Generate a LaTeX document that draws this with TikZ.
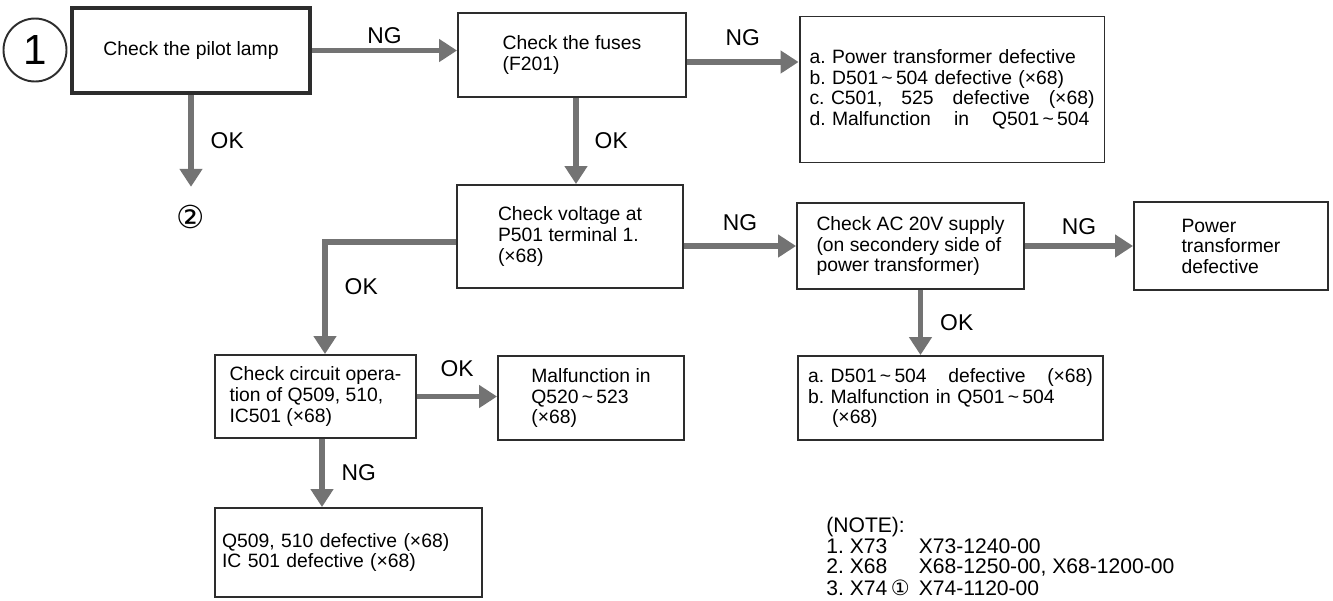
\documentclass[tikz,border=0pt]{standalone}
\usepackage{fontspec}
\setmainfont{Liberation Sans}
\newfontfamily\symfont{DejaVu Sans}
\usepackage{tikz}
\usetikzlibrary{arrows.meta,positioning}
\definecolor{boxline}{RGB}{45,45,45}
\definecolor{flowgray}{RGB}{115,115,115}
\frenchspacing

\begin{document}
\begin{tikzpicture}[
    x=0.02cm, y=-0.02cm,
    every node/.style={align=left, font=\fontsize{11}{11.7}\selectfont},
    box/.style={rectangle, draw=boxline, line width=1.1pt, fill=white, inner xsep=0.2cm},
    mainbox/.style={box, line width=2.4pt},
    flow/.style={line width=3.4pt, draw=flowgray, -{Triangle[length=0.36cm, width=0.44cm]}},
    lbl/.style={font=\fontsize{13}{13}\selectfont, inner sep=1pt},
    startmark/.style={circle, draw=boxline, line width=1.1pt, minimum size=1.26cm, inner sep=0pt, font=\fontsize{24}{24}\selectfont}
]
\useasboundingbox (0,0) rectangle (1333,600);

% Start
\node[startmark] (start) at (35,50) {1};
\node[mainbox, minimum width=4.76cm, minimum height=1.70cm] (lamp) at (191,50.5) {Check the pilot lamp};
\node[inner sep=0pt, font=\symfont\fontsize{18}{18}\selectfont] (two) at (191,217) {②};

% Fuse branch
\node[box, minimum width=4.56cm, minimum height=1.68cm] (fuse) at (572,55) {Check the fuses\\(F201)};
\node[box, text width=5.70cm, minimum height=2.92cm] (fusebad) at (952,89.5) {a. Power transformer defective\\
b. D501\,\textasciitilde\,504 defective (×68)\\
\makebox[5.7cm][l]{c. C501,\hfill 525\hfill defective\hfill (×68)}\\
\makebox[5.6cm][l]{d. Malfunction\hfill in\hfill Q501\,\textasciitilde\,504}};

% Voltage branch
\node[box, minimum width=4.52cm, minimum height=2.06cm] (volt) at (570,236.5) {Check voltage at\\P501 terminal 1.\\(×68)};
\node[box, minimum width=4.54cm, minimum height=1.72cm] (acchk) at (910.5,246) {Check AC 20V supply\\(on secondery side of\\power transformer)};
\node[box, minimum width=3.88cm, minimum height=1.76cm] (trans) at (1231,246) {Power\\transformer\\defective};
\node[box, text width=5.70cm, minimum height=1.68cm] (diode) at (950.5,398) {\makebox[5.7cm][l]{a. D501\,\textasciitilde\,504\hfill defective\hfill (×68)}\\
b. Malfunction in Q501\,\textasciitilde\,504\\
\hspace*{0.48cm}(×68)};

% Circuit branch
\node[box, minimum width=4.02cm, minimum height=1.66cm] (circ) at (315.5,396.5) {Check circuit opera-\\tion of Q509, 510,\\IC501 (×68)};
\node[box, minimum width=3.72cm, minimum height=1.68cm] (qmal) at (591,398) {Malfunction in\\Q520\,\textasciitilde\,523\\(×68)};
\node[box, text width=5.06cm, inner xsep=0.14cm, minimum height=1.78cm] (qbad) at (348.5,552.5) {Q509, 510 defective (×68)\\IC 501 defective (×68)};

% Note
\node[anchor=north west, inner sep=0pt, font=\fontsize{12}{11.3}\selectfont] (note) at (826,517) {\begin{tabular}{@{}p{1.85cm}@{}l@{}}
\multicolumn{2}{@{}l@{}}{(NOTE):}\\
1.\ X73 & X73-1240-00\\
2.\ X68 & X68-1250-00, X68-1200-00\\
3.\ X74\,{\symfont ①} & X74-1120-00
\end{tabular}};

% Connections
\draw[flow] (lamp.east) -- (lamp.east -| fuse.west) node[lbl, midway, above=1pt] {NG};
\draw[flow] (lamp.south) -- ([yshift=0.36cm]two.north) node[lbl, midway, right=0.3cm] {OK};
\draw[flow] ([yshift=-0.14cm]fuse.east) -- ([yshift=-0.14cm]fuse.east -| fusebad.west) node[lbl, midway, above=0.24cm] {NG};
\draw[flow] ([xshift=0.08cm]fuse.south) -- ([xshift=0.08cm]fuse.south |- volt.north) node[lbl, midway, right=0.28cm] {OK};
\draw[flow] (volt.east |- acchk.west) -- (acchk.west) node[lbl, midway, above=0.22cm] {NG};
\draw[flow] (acchk.east) -- (trans.west) node[lbl, midway, above=0.14cm] {NG};
\draw[flow] ([xshift=0.2cm]acchk.south) -- ([xshift=0.2cm]acchk.south |- diode.north) node[lbl, midway, right=0.3cm] {OK};
\draw[flow] ([yshift=-0.11cm]volt.west) -| ([xshift=0.19cm]circ.north) node[lbl, pos=0.7, right=0.3cm] {OK};
\draw[flow] (circ.east) -- (circ.east -| qmal.west) node[lbl, midway, above=0.3cm] {OK};
\draw[flow] ([xshift=0.13cm]circ.south) -- ([xshift=0.13cm]circ.south |- qbad.north) node[lbl, midway, right=0.3cm] {NG};

\end{tikzpicture}
\end{document}
